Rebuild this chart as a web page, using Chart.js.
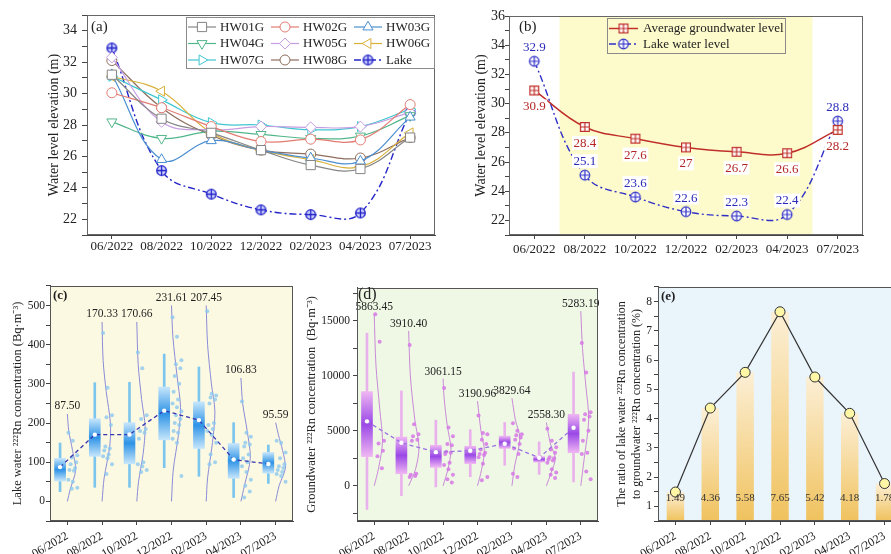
<!DOCTYPE html>
<html lang="en"><head><meta charset="utf-8"><title>Water level and radon</title>
<script src="https://cdn.jsdelivr.net/npm/chart.js@4.4.1/dist/chart.umd.min.js"></script>
<style>
html,body{margin:0;padding:0;background:#fff;width:891px;height:554px;overflow:hidden;position:relative;}
canvas{position:absolute;display:block;}
</style></head><body>
<canvas id="ca" width="445" height="262" style="left:0;top:0;width:445px;height:262px"></canvas>
<canvas id="cb" width="446" height="262" style="left:445px;top:0;width:446px;height:262px"></canvas>
<canvas id="cc" width="300" height="276" style="left:0;top:278px;width:300px;height:276px"></canvas>
<canvas id="cd" width="302" height="276" style="left:300px;top:278px;width:302px;height:276px"></canvas>
<canvas id="ce" width="330" height="276" style="left:602px;top:278px;width:330px;height:276px"></canvas>
<script>
// ---------------- DATA ----------------
const months = ['06/2022','08/2022','10/2022','12/2022','02/2023','04/2023','07/2023'];

// (a) water level of each well (m)
const hw01g = [31.2, 28.4, 27.5, 26.4, 25.45, 25.2, 27.2];
const hw02g = [30.05, 29.1, 27.9, 26.95, 27.1, 27.05, 29.3];
const hw03g = [31.2, 25.8, 27.0, 26.4, 25.9, 25.7, 28.5];
const hw04g = [28.2, 27.15, 27.6, 27.4, 27.15, 27.3, 28.6];
const hw05g = [32.3, 28.2, 27.7, 27.9, 27.85, 27.9, 28.8];
const hw06g = [31.1, 30.15, 27.5, 26.4, 25.8, 25.35, 27.5];
const hw07g = [31.1, 29.6, 28.15, 28.0, 27.7, 27.9, 29.0];
const hw08g = [32.1, 29.1, 27.35, 26.4, 26.15, 25.9, 27.2];
const lakeLevel = [32.9, 25.1, 23.6, 22.6, 22.3, 22.4, 28.8];
const levelTicksA = [22, 24, 26, 28, 30, 32, 34];

// (b)
const avgGroundwater = [30.9, 28.4, 27.6, 27, 26.7, 26.6, 28.2];
const levelTicksB = [22, 24, 26, 28, 30, 32, 34, 36];

// (c) lake water 222Rn (Bq/m3)
const lakeRnMean = [87.50, 170.33, 170.66, 231.61, 207.45, 106.83, 95.59];
const lakeRnQ1 = [52, 115, 96, 157, 135, 59, 72];
const lakeRnQ3 = [110, 211, 201, 292, 254, 148, 125];
const lakeRnMin = [25, 36, 36, 86, 64, 10, 46];
const lakeRnMax = [149, 303, 304, 376, 343, 201, 144];
const lakeRnPoints = [
  [175,155,118,112,100,95,85,80,78,55,50,35,32],
  [430,290,220,215,195,140,135,130,120,115,110,95,70],
  [380,340,220,210,185,180,175,160,100,95,90,80,75],
  [470,420,360,350,340,320,300,280,260,250,240,230,220,210,200,195,180,175,160,150,65],
  [485,275,270,265,260,250,200,195,185,180,170,150,120,100,95],
  [255,175,165,150,145,140,120,110,100,90,75,55,40,25,10],
  [155,150,125,110,95,90,85,80,75,70,65,50]
];
// half-violin outline: [concentration, width in category units]
const lakeRnDensity = [
  [[0,0],[30,0.08],[80,0.24],[130,0.15],[180,0.04],[223,0]],
  [[0,0],[60,0.06],[140,0.22],[200,0.24],[280,0.12],[360,0.03],[458,0]],
  [[0,0],[50,0.05],[120,0.18],[190,0.24],[260,0.14],[350,0.04],[458,0]],
  [[0,0],[80,0.05],[170,0.2],[240,0.26],[320,0.16],[420,0.04],[500,0]],
  [[0,0],[60,0.04],[150,0.18],[230,0.25],[300,0.15],[400,0.04],[500,0]],
  [[0,0],[40,0.1],[110,0.27],[180,0.18],[250,0.05],[315,0]],
  [[0,0],[40,0.1],[85,0.28],[130,0.2],[170,0.08],[201,0]]
];
const lakeRnTicks = [0, 100, 200, 300, 400, 500];

// (d) groundwater 222Rn (Bq/m3)
const gwRnMean = [5863.45, 3910.40, 3061.15, 3190.96, 3829.64, 2558.30, 5283.19];
const gwRnQ1 = [2660, 1100, 1680, 2010, 3400, 2160, 3010];
const gwRnQ3 = [8570, 4430, 3690, 3600, 4520, 2660, 6500];
const gwRnMin = [-2150, -890, -100, 830, 1860, 1040, 350];
const gwRnMax = [13880, 8630, 5970, 5110, 5760, 3990, 10340];
const gwRnPoints = [
  [15600,13100,4100,3850,3200,2700,1600],
  [12800,5600,4700,4500,4200,4100,1100,1000,900,800],
  [8900,5300,4500,3800,3700,3100,3000,2900,2100,1900,1500,1000,600,300],
  [6400,4800,4700,4200,3800,3300,3000,2900,2800,2600,2000,800,500],
  [5700,5000,4700,4600,4400,4200,3800,3400,2900,1100,800],
  [5200,4100,3500,3300,3000,2600,2500,2400,2300,2100,1500,1200,1000,700],
  [13000,10300,6700,6500,6300,6000,5000,4100,3000,2900,1300,600]
];
const gwRnDensity = [
  [[0,0],[1500,0.12],[4000,0.24],[7000,0.16],[11000,0.05],[15590,0]],
  [[0,0],[1500,0.2],[3500,0.3],[6000,0.18],[10000,0.05],[14090,0]],
  [[0,0],[1500,0.14],[3300,0.23],[5500,0.12],[8000,0.03],[9740,0]],
  [[0,0],[1500,0.12],[3200,0.2],[5000,0.1],[7700,0]],
  [[0,0],[1800,0.08],[4300,0.23],[6000,0.1],[7970,0]],
  [[0,0],[1200,0.14],[2500,0.26],[3800,0.12],[5760,0]],
  [[0,0],[2500,0.1],[6000,0.23],[9000,0.15],[12500,0.05],[15890,0]]
];
const gwRnTicks = [0, 5000, 10000, 15000];

// (e) ratio lake / groundwater (%)
const rnRatio = [1.49, 4.36, 5.58, 7.65, 5.42, 4.18, 1.78];
const ratioTicks = [1, 2, 3, 4, 5, 6, 7, 8];

// ---------------- HELPERS ----------------
const FONT = "'Liberation Serif','Times New Roman',Times,serif";
Chart.defaults.font.family = FONT;
Chart.defaults.color = '#222';
Chart.defaults.animation = false;
Chart.defaults.events = [];
Chart.defaults.plugins.legend.display = false;
Chart.defaults.plugins.tooltip.enabled = false;

function allTicks(min, max, step) {
  const out = [];
  const k0 = Math.ceil(min / step - 1e-9), k1 = Math.floor(max / step + 1e-9);
  for (let k = k0; k <= k1; k++) out.push(+(k * step).toFixed(6));
  return out;
}
function yAxis(o) {
  const all = allTicks(o.min, o.max, o.minor);
  return {
    type: 'linear', position: 'left', min: o.min, max: o.max,
    afterBuildTicks: s => { s.ticks = all.map(v => ({ value: v })); },
    afterFit: s => { s.width = o.width; },
    ticks: { autoSkip: false, padding: o.pad, color: '#222', font: { size: o.fs },
      callback: v => o.major.includes(v) ? String(v) : '' },
    grid: { drawOnChartArea: false, drawTicks: true, tickLength: o.tl, color: '#444', lineWidth: 1 },
    border: { display: true, color: '#444', width: 1 },
    title: { display: true, text: o.title, color: '#222', font: { size: o.tfs }, padding: { top: o.tpad, bottom: 0 } }
  };
}
function xCat(o) {
  return {
    type: 'category', offset: true,
    afterFit: s => { s.height = o.height; },
    ticks: { autoSkip: false, maxRotation: o.rot, minRotation: o.rot, padding: o.pad, color: '#222', font: { size: o.fs } },
    grid: { drawOnChartArea: false, offset: false, drawTicks: true, tickLength: o.tl, color: '#444' },
    border: { display: true, color: '#444', width: 1 }
  };
}
function xLin(o) {
  return {
    type: 'linear', min: -0.5, max: 6.5, offset: false,
    afterBuildTicks: s => { s.ticks = months.map((m, i) => ({ value: i })); },
    afterFit: s => { s.height = o.height; },
    ticks: { autoSkip: false, maxRotation: o.rot, minRotation: o.rot, padding: o.pad, color: '#222', font: { size: o.fs },
      callback: v => months[Math.round(v)] },
    grid: { drawOnChartArea: false, offset: false, drawTicks: true, tickLength: o.tl, color: '#444' },
    border: { display: true, color: '#444', width: 1 }
  };
}
function baseOpts(o) {
  return {
    responsive: false, maintainAspectRatio: false, devicePixelRatio: 1, animation: false, events: [],
    layout: { padding: { left: 0, top: o.top, right: o.right, bottom: 0 } },
    plugins: { legend: { display: false }, tooltip: { enabled: false } },
    scales: { x: o.x, y: o.y }
  };
}
function deco(o) {
  return {
    id: 'deco',
    beforeDraw(ch) {
      const a = ch.chartArea, c = ch.ctx;
      c.save();
      if (o.bg) { c.fillStyle = o.bg; c.fillRect(a.left, a.top, a.right - a.left, a.bottom - a.top); }
      if (o.band) o.band(ch, c, a);
      c.restore();
    },
    afterDraw(ch) {
      const a = ch.chartArea, c = ch.ctx;
      c.save();
      c.strokeStyle = o.frame || '#555'; c.lineWidth = 1;
      c.strokeRect(Math.round(a.left) + 0.5, Math.round(a.top) + 0.5, Math.round(a.right - a.left) - 1, Math.round(a.bottom - a.top) - 1);
      c.fillStyle = '#222'; c.font = o.labelFont; c.textBaseline = 'middle'; c.textAlign = 'left';
      c.fillText(o.label, a.left + o.lx, a.top + o.ly);
      c.restore();
    }
  };
}
function makeMarker(kind, r, stroke, fill, lw) {
  const s = Math.ceil(2 * r + lw * 2 + 2);
  const cv = document.createElement('canvas'); cv.width = s; cv.height = s;
  const g = cv.getContext('2d'); const m = s / 2;
  g.lineWidth = lw; g.strokeStyle = stroke; g.fillStyle = fill;
  g.beginPath();
  if (kind === 'circle') g.arc(m, m, r, 0, Math.PI * 2); else g.rect(m - r, m - r, 2 * r, 2 * r);
  g.fill(); g.stroke();
  g.beginPath(); g.moveTo(m - r, m); g.lineTo(m + r, m); g.moveTo(m, m - r); g.lineTo(m, m + r); g.stroke();
  return cv;
}
function drawLegendItem(c, ds, x0, y, len) {
  c.save();
  c.strokeStyle = ds.borderColor; c.lineWidth = ds.borderWidth; c.setLineDash(ds.borderDash || []);
  c.beginPath(); c.moveTo(x0, y); c.lineTo(x0 + len, y); c.stroke(); c.setLineDash([]);
  c.fillStyle = ds.pointBackgroundColor || '#fff'; c.strokeStyle = ds.borderColor; c.lineWidth = 1;
  Chart.helpers.drawPoint(c, { pointStyle: ds.pointStyle, rotation: ds.pointRotation || 0, radius: ds.pointRadius, borderWidth: 1 }, x0 + len / 2, y);
  c.restore();
}

// ---------------- (a) ----------------
const lakeMarkerA = makeMarker('circle', 4.8, '#2020c8', '#d4d8ff', 1.3);
function wellDs(label, data, color, style, rot, r) {
  return { label, data, borderColor: color, borderWidth: 1.2, pointStyle: style, pointRotation: rot,
    pointRadius: r, pointBackgroundColor: '#ffffff', pointBorderColor: color, pointBorderWidth: 1, tension: 0.4, fill: false };
}
const legendA = {
  id: 'legendA',
  afterDraw(ch) {
    const c = ch.ctx;
    c.save();
    c.fillStyle = '#fff'; c.strokeStyle = '#8a8a8a'; c.lineWidth = 1;
    c.fillRect(186.5, 17.5, 248, 51); c.strokeRect(186.5, 17.5, 248, 51);
    const cols = [188, 271, 354], rows = [27, 43.5, 60];
    ch.data.datasets.forEach((ds, k) => {
      const x0 = cols[k % 3], y = rows[Math.floor(k / 3)];
      drawLegendItem(c, ds, x0, y, 28);
      c.fillStyle = '#222'; c.font = '13px ' + FONT; c.textBaseline = 'middle'; c.textAlign = 'left';
      c.fillText(ds.label, x0 + 32, y + 0.5);
    });
    c.restore();
  }
};
new Chart(document.getElementById('ca'), {
  type: 'line',
  data: { labels: months, datasets: [
    wellDs('HW01G', hw01g, '#858585', 'rect', 0, 6.5),
    wellDs('HW02G', hw02g, '#e27c72', 'circle', 0, 5),
    wellDs('HW03G', hw03g, '#4b8fd0', 'triangle', 0, 5.8),
    wellDs('HW04G', hw04g, '#52b68a', 'triangle', 180, 5.8),
    wellDs('HW05G', hw05g, '#c79de2', 'rectRot', 0, 5.5),
    wellDs('HW06G', hw06g, '#d8b03a', 'triangle', 270, 5.8),
    wellDs('HW07G', hw07g, '#3ec7d0', 'triangle', 90, 5.8),
    wellDs('HW08G', hw08g, '#8f6e5e', 'circle', 0, 5),
    { label: 'Lake', data: lakeLevel, borderColor: '#2424c8', borderWidth: 1.4, borderDash: [7, 3, 2, 3],
      pointStyle: lakeMarkerA, pointRadius: 5, pointBackgroundColor: '#d4d8ff', tension: 0.4, fill: false }
  ] },
  options: baseOpts({ top: 15, right: 10,
    x: xCat({ height: 27, rot: 0, pad: 0, fs: 13, tl: 4 }),
    y: yAxis({ min: 21, max: 35, minor: 1, major: levelTicksA, width: 87, pad: 5, tl: 5, fs: 14,
      title: 'Water level elevation (m)', tfs: 14, tpad: 46 }) }),
  plugins: [deco({ label: '(a)', labelFont: '15px ' + FONT, lx: 4, ly: 12, frame: '#666' }), legendA]
});

// ---------------- (b) ----------------
const lakeMarkerB = makeMarker('circle', 4.8, '#3030c8', '#ffffff', 1.2);
const avgMarkerB = makeMarker('square', 4.4, '#c0302a', '#ffffff', 1.2);
function boxedLabel(c, t, x, y, col) {
  const w = c.measureText(t).width;
  c.fillStyle = '#ffffff'; c.fillRect(x - w / 2 - 1.5, y - 7, w + 3, 14);
  c.fillStyle = col; c.fillText(t, x, y + 0.5);
}
const labelsB = {
  id: 'labelsB',
  afterDatasetsDraw(ch) {
    const c = ch.ctx, x = ch.scales.x, y = ch.scales.y;
    c.save(); c.font = '13px ' + FONT; c.textAlign = 'center'; c.textBaseline = 'middle';
    avgGroundwater.forEach((v, i) => boxedLabel(c, String(v), x.getPixelForValue(i), y.getPixelForValue(v) + 16, '#b32626'));
    lakeLevel.forEach((v, i) => boxedLabel(c, String(v), x.getPixelForValue(i), y.getPixelForValue(v) - 14, '#2a2ab8'));
    c.restore();
  },
  afterDraw(ch) {
    const c = ch.ctx;
    c.save();
    c.strokeStyle = '#8a8a8a'; c.lineWidth = 1; c.strokeRect(162.5, 18.5, 178, 35);
    const ds = ch.data.datasets;
    [28.5, 44].forEach((yy, k) => {
      drawLegendItem(c, ds[k], 164, yy, 29);
      c.fillStyle = '#222'; c.font = '13px ' + FONT; c.textBaseline = 'middle'; c.textAlign = 'left';
      c.fillText(ds[k].label, 198, yy + 0.5);
    });
    c.restore();
  }
};
new Chart(document.getElementById('cb'), {
  type: 'line',
  data: { labels: months, datasets: [
    { label: 'Average groundwater level', data: avgGroundwater, borderColor: '#c0302a', borderWidth: 1.5,
      pointStyle: avgMarkerB, pointRadius: 5, pointBackgroundColor: '#fff', tension: 0.4, fill: false },
    { label: 'Lake water level', data: lakeLevel, borderColor: '#3030c8', borderWidth: 1.4, borderDash: [7, 3, 2, 3],
      pointStyle: lakeMarkerB, pointRadius: 5, pointBackgroundColor: '#fff', tension: 0.4, fill: false }
  ] },
  options: baseOpts({ top: 16, right: 28,
    x: xCat({ height: 27, rot: 0, pad: 3, fs: 13, tl: 4 }),
    y: yAxis({ min: 21, max: 36, minor: 1, major: levelTicksB, width: 64, pad: 0, tl: 4, fs: 14,
      title: 'Water level elevation (m)', tfs: 14, tpad: 28 }) }),
  plugins: [deco({ label: '(b)', labelFont: '15px ' + FONT, lx: 10, ly: 11, frame: '#666',
    band: (ch, c, a) => {
      const x = ch.scales.x;
      const l = (x.getPixelForValue(0) + x.getPixelForValue(1)) / 2;
      const r = (x.getPixelForValue(5) + x.getPixelForValue(6)) / 2;
      c.fillStyle = '#fdfbcb'; c.fillRect(l, a.top, r - l, a.bottom - a.top);
    } }), labelsB]
});

// ---------------- (c) & (d) ----------------
function boxGradient(light, dark) {
  return (ctx) => {
    const ch = ctx.chart;
    if (!ch.chartArea || !ctx.raw || !Array.isArray(ctx.raw.y)) return light;
    const y = ch.scales.y, r = ctx.raw.y;
    const t = y.getPixelForValue(Math.max(r[0], r[1])), b = y.getPixelForValue(Math.min(r[0], r[1]));
    if (!isFinite(t) || !isFinite(b) || b - t < 1) return dark;
    const g = ch.ctx.createLinearGradient(0, t, 0, b);
    g.addColorStop(0, light); g.addColorStop(0.5, dark); g.addColorStop(1, light);
    return g;
  };
}
function radonChart(id, o) {
  const shift = -0.21;
  const datasets = [];
  datasets.push({ type: 'line', data: o.mean.map((v, i) => ({ x: i + shift, y: v })), borderColor: o.meanLine, borderWidth: 1.3,
    borderDash: [4, 3], pointRadius: 2.2, pointBackgroundColor: '#ffffff', pointBorderWidth: 0, tension: 0, fill: false, order: 0 });
  const pts = [];
  o.pts.forEach((arr, i) => arr.forEach((v, j) => pts.push({ x: i + 0.03 + ((j * 4) % 9) * 0.032, y: v })));
  datasets.push({ type: 'scatter', data: pts, pointRadius: 2, pointBackgroundColor: o.ptColor, pointBorderWidth: 0, borderWidth: 0, order: 2 });
  o.dens.forEach((d, i) => datasets.push({ type: 'line', data: d.map(p => ({ x: i + p[1], y: p[0] })), borderColor: o.curve,
    borderWidth: 1, pointRadius: 0, tension: 0.3, fill: false, order: 3 }));
  datasets.push({ type: 'bar', data: o.q1.map((v, i) => ({ x: i + shift, y: [v, o.q3[i]] })), barThickness: 11, grouped: false,
    backgroundColor: boxGradient(o.light, o.dark), borderWidth: 0, order: 4 });
  datasets.push({ type: 'bar', data: o.lo.map((v, i) => ({ x: i + shift, y: [v, o.hi[i]] })), barThickness: 2, grouped: false,
    backgroundColor: o.whisker, borderWidth: 0, order: 5 });
  const labels = {
    id: 'meanLabels',
    afterDatasetsDraw(ch) {
      const c = ch.ctx, x = ch.scales.x, y = ch.scales.y;
      c.save(); c.font = o.lfs + 'px ' + FONT; c.fillStyle = '#222'; c.textAlign = 'center'; c.textBaseline = 'middle';
      o.mean.forEach((m, i) => {
        const top = o.dens[i][o.dens[i].length - 1][0];
        c.fillText(m.toFixed(2), x.getPixelForValue(i), y.getPixelForValue(top) - o.lgap);
      });
      c.restore();
    }
  };
  new Chart(document.getElementById(id), {
    type: 'bar',
    data: { datasets },
    options: baseOpts({ top: o.top, right: o.right,
      x: xLin({ height: o.xh, rot: 30, pad: 4, fs: 12, tl: 4 }),
      y: o.y }),
    plugins: [deco({ bg: o.bg, label: o.label, labelFont: o.labelFont, lx: o.lx, ly: o.ly, frame: '#555' }), labels]
  });
}
radonChart('cc', {
  mean: lakeRnMean, q1: lakeRnQ1, q3: lakeRnQ3, lo: lakeRnMin, hi: lakeRnMax, pts: lakeRnPoints, dens: lakeRnDensity,
  meanLine: '#3535b0', ptColor: 'rgba(140,200,240,0.8)', curve: '#8a8cd8', light: '#c6e6fb', dark: '#2e93e6', whisker: '#7cc6ee',
  bg: '#fcf9e2', label: '(c)', labelFont: 'bold 13px ' + FONT, lx: 3, ly: 10, lfs: 11.5, lgap: 8, top: 7, right: 7, xh: 33,
  y: yAxis({ min: -50, max: 550, minor: 50, major: lakeRnTicks, width: 50, pad: 1, tl: 4, fs: 11.5,
    title: 'Lake water \u00B2\u00B2\u00B2Rn concentration (Bq\u00B7m\u207B\u00B3)', tfs: 12.5, tpad: 10 })
});
radonChart('cd', {
  mean: gwRnMean, q1: gwRnQ1, q3: gwRnQ3, lo: gwRnMin, hi: gwRnMax, pts: gwRnPoints, dens: gwRnDensity,
  meanLine: '#9a72e0', ptColor: 'rgba(214,120,230,0.85)', curve: '#c98ad8', light: '#efb6f3', dark: '#9a48e6', whisker: '#eab2ec',
  bg: '#eff8e5', label: '(d)', labelFont: '16px ' + FONT, lx: 1, ly: 7, lfs: 11.5, lgap: 7, top: 6, right: 2, xh: 33,
  y: yAxis({ min: -3200, max: 18000, minor: 2500, major: gwRnTicks, width: 57, pad: 3, tl: 4, fs: 11.5,
    title: 'Groundwater \u00B2\u00B2\u00B2Rn concentration  (Bq\u00B7m\u207B\u00B3)', tfs: 12.5, tpad: 4 })
});

// ---------------- (e) ----------------
const barGradient = (ctx) => {
  const ch = ctx.chart;
  if (!ch.chartArea || typeof ctx.raw !== 'number') return '#f3cf85';
  const t = ch.scales.y.getPixelForValue(ctx.raw), b = ch.chartArea.bottom;
  const g = ch.ctx.createLinearGradient(0, t, 0, b);
  g.addColorStop(0, '#fcefd6'); g.addColorStop(1, '#f0c25e');
  return g;
};
const labelsE = {
  id: 'labelsE',
  afterDatasetsDraw(ch) {
    const c = ch.ctx, x = ch.scales.x, a = ch.chartArea;
    c.save(); c.font = '11px ' + FONT; c.fillStyle = '#333'; c.textAlign = 'center'; c.textBaseline = 'middle';
    rnRatio.forEach((v, i) => c.fillText(v.toFixed(2), x.getPixelForValue(i), a.bottom - 23));
    c.restore();
  }
};
new Chart(document.getElementById('ce'), {
  type: 'bar',
  data: { labels: months, datasets: [
    { type: 'line', data: rnRatio, borderColor: '#333', borderWidth: 1.2, pointRadius: 5, pointBackgroundColor: '#fff6a6',
      pointBorderColor: '#333', pointBorderWidth: 1, tension: 0, fill: false, order: 0 },
    { type: 'bar', data: rnRatio, base: 0.5, barPercentage: 0.5, categoryPercentage: 1, backgroundColor: barGradient, borderWidth: 0, order: 1 }
  ] },
  options: baseOpts({ top: 7, right: 30,
    x: xCat({ height: 33, rot: 30, pad: 4, fs: 12, tl: 4 }),
    y: yAxis({ min: 0.5, max: 8.5, minor: 0.5, major: ratioTicks, width: 56, pad: 2, tl: 4, fs: 11.5,
      title: ['The ratio of lake water \u00B2\u00B2\u00B2Rn concentration', 'to groundwater \u00B2\u00B2\u00B2Rn concentration (%)'], tfs: 12, tpad: 13 }) }),
  plugins: [deco({ bg: '#eaf4fb', label: '(e)', labelFont: 'bold 13px ' + FONT, lx: 3, ly: 10, frame: '#555' }), labelsE]
});
</script>
</body></html>
